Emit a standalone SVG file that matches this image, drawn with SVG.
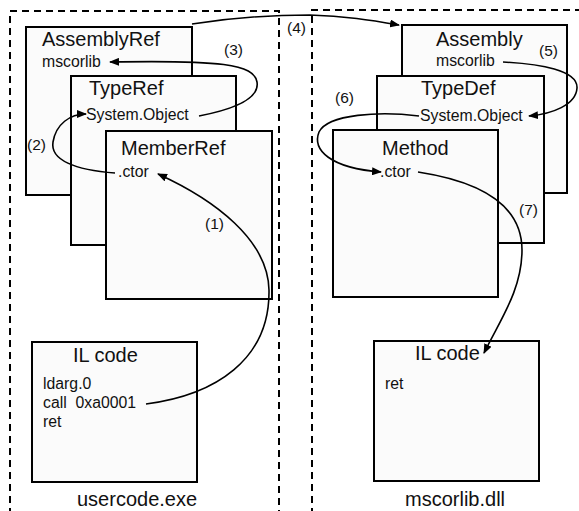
<svg xmlns="http://www.w3.org/2000/svg" width="579" height="511" viewBox="0 0 579 511">
  <style>
    .bg { fill: #ffffff; }
    .frame { fill: none; stroke: #000; stroke-width: 2; stroke-dasharray: 7 5; }
    .box { fill: #fbfbfb; stroke: #000; stroke-width: 2; }
    .title { font-family: "Liberation Sans", Arial, sans-serif; font-size: 20px; fill: #111; }
    .item { font-family: "Liberation Sans", Arial, sans-serif; font-size: 15.8px; fill: #111; }
    .step { font-family: "Liberation Sans", Arial, sans-serif; font-size: 15.5px; fill: #111; }
    .file { font-family: "Liberation Sans", Arial, sans-serif; font-size: 20px; fill: #111; }
    .link { fill: none; stroke: #000; stroke-width: 1.6; marker-end: url(#arrow); }
  </style>
  <defs>
    <marker id="arrow" viewBox="0 0 10 8" refX="9" refY="4" markerWidth="10" markerHeight="8" markerUnits="userSpaceOnUse" orient="auto">
      <path d="M0,0 L10,4 L0,8 Z" fill="#000"/>
    </marker>
  </defs>

  <rect class="bg" x="0" y="0" width="579" height="511"/>

  <!-- assembly frames -->
  <g id="frame-usercode">
    <path class="frame" d="M10,515 L10,11 L279,11 L279,515"/>
    <text class="file" x="77" y="506">usercode.exe</text>
  </g>
  <g id="frame-mscorlib">
    <path class="frame" d="M312,515 L312,10 L584,10"/>
    <text class="file" x="405" y="506">mscorlib.dll</text>
  </g>

  <!-- usercode.exe metadata tables -->
  <g id="assemblyref">
    <rect class="box" x="26" y="27" width="166" height="168"/>
    <text class="title" x="42" y="46">AssemblyRef</text>
    <text class="item" x="42" y="67">mscorlib</text>
  </g>
  <g id="typeref">
    <rect class="box" x="71" y="76" width="165" height="169"/>
    <text class="title" x="89" y="95">TypeRef</text>
    <text class="item" x="86" y="120">System.Object</text>
  </g>
  <g id="memberref">
    <rect class="box" x="106" y="131" width="166" height="168"/>
    <text class="title" x="121" y="155">MemberRef</text>
    <text class="item" x="118" y="177">.ctor</text>
  </g>
  <g id="il-usercode">
    <rect class="box" x="32" y="342" width="165" height="140"/>
    <text class="title" x="73" y="362">IL code</text>
    <text class="item" x="43" y="389">ldarg.0</text>
    <text class="item" x="43" y="408" xml:space="preserve">call  0xa0001</text>
    <text class="item" x="43" y="427">ret</text>
  </g>

  <!-- mscorlib.dll metadata tables -->
  <g id="assembly">
    <rect class="box" x="402" y="25" width="165" height="168"/>
    <text class="title" x="436" y="46">Assembly</text>
    <text class="item" x="436" y="66">mscorlib</text>
  </g>
  <g id="typedef">
    <rect class="box" x="377" y="76" width="167" height="167"/>
    <text class="title" x="421" y="95">TypeDef</text>
    <text class="item" x="420" y="121">System.Object</text>
  </g>
  <g id="method">
    <rect class="box" x="333" y="130" width="165" height="167"/>
    <text class="title" x="382" y="155">Method</text>
    <text class="item" x="380" y="177">.ctor</text>
  </g>
  <g id="il-mscorlib">
    <rect class="box" x="374" y="341" width="165" height="140"/>
    <text class="title" x="415" y="360">IL code</text>
    <text class="item" x="385" y="389">ret</text>
  </g>

  <!-- resolution steps -->
  <g id="connectors">
    <path class="link" d="M146,404 C215,395 270,360 269,290 C268,240 215,200 158,174"/>
    <path class="link" d="M115,173 C75,170 50,160 53,142 C56,124 70,114 86,114"/>
    <path class="link" d="M199,116 C230,110 260,100 257,82 C254,64 220,60 110,62"/>
    <path class="link" d="M192,24 C230,18 270,15 310,15 C345,16 370,20 399,25"/>
    <path class="link" d="M503,62 C540,64 578,70 577,88 C576,105 552,114 529,116"/>
    <path class="link" d="M419,116 C380,111 328,114 319,132 C312,150 330,168 381,172"/>
    <path class="link" d="M418,172 C470,180 522,200 522,250 C522,290 500,320 484,353"/>
  </g>

  <g id="step-labels">
    <text class="step" x="205" y="229">(1)</text>
    <text class="step" x="27" y="150">(2)</text>
    <text class="step" x="224" y="55">(3)</text>
    <text class="step" x="287" y="33">(4)</text>
    <text class="step" x="539" y="56">(5)</text>
    <text class="step" x="335" y="103">(6)</text>
    <text class="step" x="519" y="215">(7)</text>
  </g>
</svg>
